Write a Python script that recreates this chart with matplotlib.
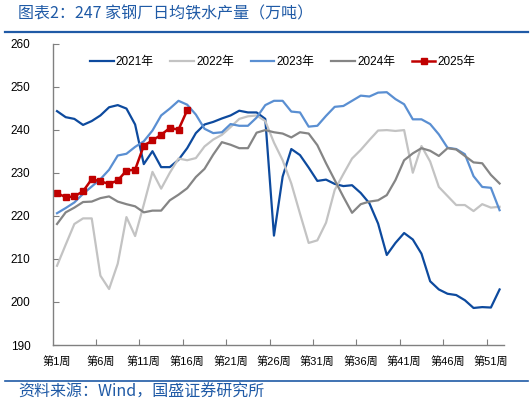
import numpy as np
import matplotlib
matplotlib.use("Agg")
from matplotlib import pyplot as plt
from matplotlib.lines import Line2D

plt.rcParams['font.family'] = ['Liberation Sans', 'Noto Sans CJK SC', 'DejaVu Sans']

weeks = np.arange(1, 53)
week_labels = ["第%d周" % w for w in range(1, 53, 5)]

y2021 = [244.3, 242.9, 242.5, 241.1, 242.0, 243.3, 245.2, 245.7, 244.9, 241.2,
         232.0, 235.0, 231.3, 231.3, 233.0, 235.7, 239.2, 241.2, 241.8, 242.6,
         243.3, 244.4, 244.0, 244.0, 242.5, 215.4, 229.1, 235.5, 234.1, 231.2,
         228.1, 228.4, 227.4, 226.9, 227.1, 225.3, 222.9, 218.2, 210.9, 213.7,
         216.0, 214.5, 211.2, 204.8, 202.9, 201.9, 201.6, 200.4, 198.6, 198.8,
         198.7, 202.9]
y2022 = [208.4, 213.3, 218.1, 219.4, 219.4, 206.1, 203.0, 208.9, 219.7, 215.3,
         222.6, 230.2, 226.3, 230.0, 233.3, 232.9, 233.4, 236.1, 237.7, 238.8,
         240.6, 242.5, 243.1, 243.3, 242.0, 237.0, 232.9, 227.5, 220.5, 213.7,
         214.3, 218.4, 226.0, 229.7, 233.3, 235.3, 237.6, 239.8, 239.9, 239.7,
         239.9, 230.0, 236.2, 232.6, 226.7, 224.6, 222.5, 222.5, 221.1, 222.7,
         221.9, 222.1]
y2023 = [220.6, 221.8, 223.1, 225.1, 226.8, 228.5, 230.7, 234.0, 234.4, 236.0,
         237.3, 239.8, 243.3, 244.9, 246.7, 245.8, 243.5, 240.2, 239.2, 239.4,
         241.3, 240.9, 240.9, 242.8, 245.7, 246.7, 246.7, 244.2, 244.0, 240.7,
         240.9, 243.2, 245.3, 245.5, 246.7, 247.9, 247.7, 248.6, 248.7, 247.1,
         245.9, 242.4, 242.4, 241.3, 238.9, 235.8, 235.5, 234.3, 229.2, 226.7,
         226.5, 221.3]
y2024 = [218.1, 220.8, 221.9, 223.2, 223.3, 224.1, 224.5, 223.3, 222.7, 222.2,
         220.8, 221.2, 221.2, 223.6, 224.9, 226.4, 229.0, 230.9, 234.2, 237.1,
         236.5, 235.7, 235.7, 239.3, 239.9, 239.4, 239.1, 238.2, 239.4, 239.1,
         236.4, 232.2, 228.3, 224.4, 220.7, 222.7, 223.3, 223.6, 224.8, 228.3,
         232.9, 234.5, 235.7, 235.1, 233.9, 235.7, 235.4, 233.9, 232.4, 232.2,
         229.5, 227.5]
y2025 = [225.3, 224.3, 224.5, 225.7, 228.5, 228.0, 227.4, 228.2, 230.5, 230.7,
         236.3, 237.5, 238.8, 240.4, 240.0, 244.5]

blue = '#1F5AA6'

fig = plt.figure(figsize=(5.31, 4.03), dpi=100)
ax = fig.add_axes([0.0992, 0.1439, 0.8498, 0.7481])

ax.plot(weeks, y2021, color='#0D4A9E', lw=1.6, label='2021年')
ax.plot(weeks, y2022, color='#C3C3C3', lw=1.6, label='2022年')
ax.plot(weeks, y2023, color='#5A8FD2', lw=1.6, label='2023年')
ax.plot(weeks, y2024, color='#858585', lw=1.6, label='2024年')
ax.plot(weeks[:len(y2025)], y2025, color='#C00000', lw=1.8, marker='s',
        markersize=4, label='2025年')

ax.set_xlim(0.5, 52.5)
ax.set_ylim(190, 260)
ax.set_yticks(np.arange(190, 261, 10))
ax.set_xticks(np.arange(5.5, 51, 5))
ax.set_xticklabels([])
ax.set_xticks(np.arange(1, 53, 5), minor=True)
ax.set_xticklabels(week_labels, minor=True, fontsize=8)
ax.tick_params(axis='x', which='minor', length=0, pad=8)
ax.tick_params(axis='x', which='major', direction='in', length=4, color='#808080')
ax.tick_params(axis='y', direction='in', length=4, color='#808080', labelsize=8.5, pad=16)

for s in ['top', 'right']:
    ax.spines[s].set_visible(False)
for s in ['left', 'bottom']:
    ax.spines[s].set_color('#808080')
    ax.spines[s].set_linewidth(1.0)

ax.legend(loc='upper center', bbox_to_anchor=(0.51, 0.995), ncol=5, frameon=False,
          fontsize=8.5, handlelength=2.0, handletextpad=0.2, columnspacing=1.4)

fig.text(0.034, 0.965, "图表2：247 家钢厂日均铁水产量（万吨）", color=blue,
         fontsize=11.5, style='italic', va='center', ha='left',
         family=['Noto Sans CJK SC', 'DejaVu Sans'])
fig.add_artist(Line2D([0.01, 0.994], [1 - 31.5 / 403] * 2, color=blue, lw=1.6))
fig.add_artist(Line2D([0.01, 0.994], [1 - 380.5 / 403] * 2, color=blue, lw=1.2))
fig.text(0.034, 1 - 392 / 403, "资料来源：Wind，国盛证券研究所", color=blue,
         fontsize=11.5, style='italic', va='center', ha='left',
         family=['Noto Sans CJK SC', 'DejaVu Sans'])

plt.savefig("out.png", dpi=100)
